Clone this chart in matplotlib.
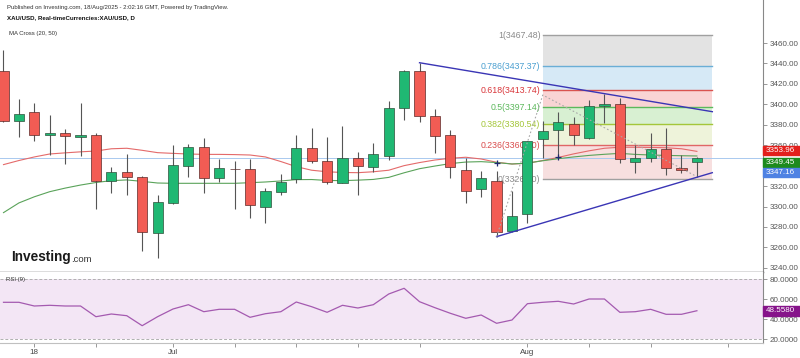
import numpy as np
import pandas as pd
import matplotlib
matplotlib.use('Agg')
import matplotlib.pyplot as plt
from matplotlib.patches import Rectangle

plt.rcParams['font.family'] = ['Liberation Sans', 'DejaVu Sans']

# daily XAU/USD candles, 16 Jun - 18 Aug 2025
dates = pd.bdate_range('2025-06-16', '2025-08-18')
opens = [3433, 3384, 3392, 3370.3, 3372, 3368, 3370, 3325.3, 3333.5, 3329.2,
         3273.8, 3303.4, 3339.6, 3357.9, 3327.6, 3337, 3336.7, 3299.5, 3314.5, 3326.6,
         3357, 3344.8, 3323.3, 3347.8, 3339, 3349.4, 3396.4, 3432.6, 3388.6, 3370,
         3336, 3317.4, 3325, 3276.3, 3292.4, 3366.1, 3374.9, 3380.4, 3367.3, 3398.4,
         3400, 3343.3, 3347.8, 3356, 3337.7, 3343.5]
highs = [3453, 3405, 3401.5, 3389.5, 3375.6, 3401, 3372.2, 3338.4, 3351.4, 3330,
         3311, 3360, 3361.2, 3366.7, 3346.2, 3344.8, 3346.8, 3318.4, 3331.5, 3370,
         3376.5, 3367.7, 3378.8, 3353.6, 3362.4, 3403.5, 3433.6, 3440.7, 3395.1, 3374.9,
         3347.2, 3335, 3335, 3315.5, 3364.4, 3384, 3392.2, 3387.3, 3404.2, 3409.8,
         3405.9, 3360.2, 3372.2, 3376.5, 3350.4, 3348.8]
lows = [3383, 3368, 3364, 3350.4, 3341.6, 3349, 3297.3, 3313.5, 3311.3, 3256.8,
        3249.3, 3302.5, 3329.2, 3313.5, 3324.3, 3297.3, 3288.5, 3284.2, 3311.3, 3322.7,
        3342.3, 3322, 3322.7, 3311.3, 3333.8, 3345.5, 3384.7, 3383, 3352.7, 3327.6,
        3303.1, 3309.6, 3270.5, 3275.4, 3283.6, 3347.2, 3348.2, 3360.2, 3366, 3381.4,
        3342.3, 3332.5, 3343.9, 3330.8, 3333.1, 3328.6]
closes = [3384, 3390.5, 3370, 3372.2, 3369.3, 3370.3, 3325, 3333.5, 3328.6, 3274.8,
          3304.1, 3340.3, 3357.9, 3327.9, 3337.4, 3336.3, 3301.8, 3314.9, 3324.3, 3357,
          3344.8, 3323.7, 3347.8, 3340, 3351.4, 3396.4, 3432.9, 3388.6, 3369.3, 3338.4,
          3315.5, 3327.6, 3275.4, 3291, 3364.4, 3374.2, 3382.7, 3370.3, 3398.7, 3400,
          3346.2, 3347.8, 3356, 3337.4, 3336, 3347.16]
ma20 = [3341, 3345, 3348.5, 3351.4, 3352.5, 3353.5, 3354.3, 3356.5, 3357, 3355,
        3352.7, 3352, 3351.4, 3351, 3351, 3350.8, 3350.4, 3348.5, 3344, 3339,
        3335.5, 3334, 3333.3, 3333.1, 3334, 3335.5, 3340, 3343, 3345.5, 3347.2,
        3348.2, 3346.5, 3343.3, 3341.6, 3342.3, 3345, 3348, 3351.5, 3354.5, 3357,
        3358, 3358, 3357.8, 3357.5, 3356.5, 3353.96]
ma50 = [3294, 3303.5, 3309.5, 3314.5, 3318, 3321, 3323.5, 3325.3, 3326, 3324.6,
        3323, 3322.7, 3322.7, 3322.7, 3322.7, 3322.7, 3323.3, 3324, 3325, 3326.3,
        3326.4, 3325.5, 3325.3, 3325.8, 3326.5, 3328.5, 3333, 3337, 3339.6, 3342,
        3343.5, 3343.9, 3343, 3341.6, 3342.5, 3344.8, 3346.8, 3348.5, 3350, 3351.1,
        3352, 3351, 3350.4, 3350, 3349.7, 3349.45]
rsi = [57, 57, 53.3, 54, 53.3, 53.3, 42.6, 45.3, 43.6, 33.6,
       42.6, 50.3, 54.6, 47.6, 50, 50, 42, 45.6, 47.6, 57.3,
       52.6, 47, 54, 51.3, 54.6, 65.3, 71, 57.6, 51.6, 46,
       41, 44.3, 36, 39.3, 55.6, 57, 58, 55.3, 60.3, 60.3,
       47, 47.6, 50, 45, 45, 48.558]

fib_ratios = [1, 0.786, 0.618, 0.5, 0.382, 0.236, 0]
fib_prices = [3467.48, 3437.37, 3413.74, 3397.14, 3380.54, 3360.00, 3326.80]
fib_lines = ['#a0a0a0', '#6aaed6', '#d9534f', '#5cb85c', '#a4c639', '#e06666', '#a0a0a0']
fib_text = ['#8a8a8a', '#4a9fd0', '#d9363a', '#5cb85c', '#a4c639', '#d94c4c', '#8a8a8a']
fib_fill = ['#e3e3e3', '#d6e9f6', '#f9d4d4', '#d8f0d2', '#eef3da', '#f7dfdf']

x = np.arange(len(dates))
W, H = 800, 358

fig = plt.figure(figsize=(8, 3.58), dpi=100)
ax = fig.add_axes([0, 1 - 272 / H, 763 / W, 272 / H])
ax2 = fig.add_axes([0, 1 - 343 / H, 763 / W, 71 / H], sharex=ax)

xl = (-0.227, 49.29)
ax.set_xlim(*xl)
ax.set_ylim(3235.9, 3502.1)

# fibonacci box
i0, i1 = 35, 46
for k in range(len(fib_prices) - 1):
    ax.fill_between([i0, i1], fib_prices[k + 1], fib_prices[k], color=fib_fill[k], lw=0, zorder=0)
for k, p in enumerate(fib_prices):
    ax.plot([i0, i1], [p, p], color=fib_lines[k], lw=1.0, zorder=1)
    r = ('%g' % fib_ratios[k])
    ax.text(i0 - 0.15, p, '%s(%.2f)' % (r, p), color=fib_text[k], fontsize=6.3,
            ha='right', va='center', zorder=2.5)

# last price line
ax.axhline(closes[-1], color='#a9c9ef', lw=0.7, zorder=1)

# moving averages
ax.plot(x, ma20, color='#e46a6a', lw=0.8, zorder=2)
ax.plot(x, ma50, color='#5aa35a', lw=0.8, zorder=2)
ax.plot([32, 36], [3342.9, 3348.2], ls='none', marker='+', ms=4, mew=0.9, color='#1f2a70', zorder=4)

# candles
o = np.array(opens); c = np.array(closes)
up = c >= o
ax.vlines(x, lows, highs, color='#555555', lw=0.8, zorder=3)
bot = np.minimum(o, c)
ht = np.maximum(np.abs(c - o), 0.8)
ax.bar(x[up], ht[up], bottom=bot[up], width=0.66, color='#1fb873', edgecolor='#2f4f3a', lw=0.5, zorder=3)
ax.bar(x[~up], ht[~up], bottom=bot[~up], width=0.66, color='#f25c54', edgecolor='#5a2a28', lw=0.5, zorder=3)

# trendlines and guide
ax.plot([27, 46], [3440.7, 3392.8], color='#3a35b5', lw=1.0, zorder=4)
ax.plot([32, 46], [3270.5, 3333.1], color='#3a35b5', lw=1.0, zorder=4)
ax.plot([32, 35, 45], [3270.5, 3409.1, 3329.2], color='#a8a8a8', lw=0.8, ls=(0, (1.5, 2)), zorder=4)

# 3340 sits under the price tags, as on the source
yt = [v for v in np.arange(3240, 3461, 20) if v != 3340]
ax.yaxis.tick_right()
ax.set_yticks(yt)
ax.set_yticklabels(['%.2f' % v for v in yt])
ax.tick_params(axis='y', length=3, width=0.6, color='#888', labelsize=5.8, labelcolor='#555', pad=2)
ax.tick_params(axis='x', bottom=False, labelbottom=False)
for s in ['top', 'left']:
    ax.spines[s].set_visible(False)
ax.spines['right'].set_color('#888')
ax.spines['right'].set_linewidth(0.8)
ax.spines['bottom'].set_color('#555')
ax.spines['bottom'].set_linewidth(1.0)

# RSI panel
ax2.set_ylim(16.3, 87.3)
ax2.axhspan(20, 80, color='#f3e6f5', lw=0, zorder=0)
ax2.axhline(80, color='#b0b0b0', lw=0.7, ls=(0, (3, 2)))
ax2.axhline(20, color='#b0b0b0', lw=0.7, ls=(0, (3, 2)))
ax2.plot(x, rsi, color='#a45ab0', lw=0.9)
ax2.yaxis.tick_right()
ax2.set_yticks([20, 40, 60, 80])
ax2.set_yticklabels(['20.0000', '40.0000', '60.0000', '80.0000'])
ax2.tick_params(axis='y', length=3, width=0.6, color='#888', labelsize=5.8, labelcolor='#555', pad=2)
tick_idx = [2, 6, 11, 15, 19, 23, 27, 34, 38, 42, 47]
tick_lab = ['18', '', 'Jul', '', '', '', '', 'Aug', '', '', '']
ax2.set_xticks(tick_idx)
ax2.set_xticklabels(tick_lab)
ax2.tick_params(axis='x', length=3, width=0.6, color='#888', labelsize=5.8, labelcolor='#444', pad=1.5)
for s in ['top', 'left']:
    ax2.spines[s].set_visible(False)
ax2.spines['right'].set_color('#888')
ax2.spines['right'].set_linewidth(0.8)
ax2.spines['bottom'].set_color('#c0c0c0')
ax2.spines['bottom'].set_linewidth(0.8)
ax2.set_xlim(*xl)


def ftext(px, py, s, **kw):
    fig.text(px / W, 1 - py / H, s, **kw)


def tag(py0, py1, s, col):
    fig.patches.append(Rectangle((763 / W, 1 - py1 / H), 37 / W, (py1 - py0) / H,
                                 transform=fig.transFigure, color=col, zorder=10))
    ftext(766, (py0 + py1) / 2, s, color='white', fontsize=5.8, va='center', ha='left', zorder=11)


tag(146, 155, '3353.96', '#e3201c')
tag(158, 167, '3349.45', '#1d8a1d')
tag(168, 177, '3347.16', '#4f82e3')
tag(306, 316, '48.5580', '#86138a')

ftext(7, 7, 'Published on Investing.com, 18/Aug/2025 - 2:02:16 GMT, Powered by TradingView.',
      fontsize=4.3, color='#333', va='center')
ftext(7, 18, 'XAU/USD, Real-timeCurrencies:XAU/USD, D', fontsize=4.4, color='#111',
      weight='bold', va='center')
ftext(9, 33, 'MA Cross (20, 50)', fontsize=4.3, color='#333', va='center')
ftext(6, 279, 'RSI (9)', fontsize=4.3, color='#333', va='center')
ftext(11, 257, 'Investing', fontsize=9.8, color='#1a1a1a', weight='bold', va='center')
ftext(71.5, 259, '.com', fontsize=6.8, color='#333', va='center')

fig.savefig('out.png', dpi=100)
